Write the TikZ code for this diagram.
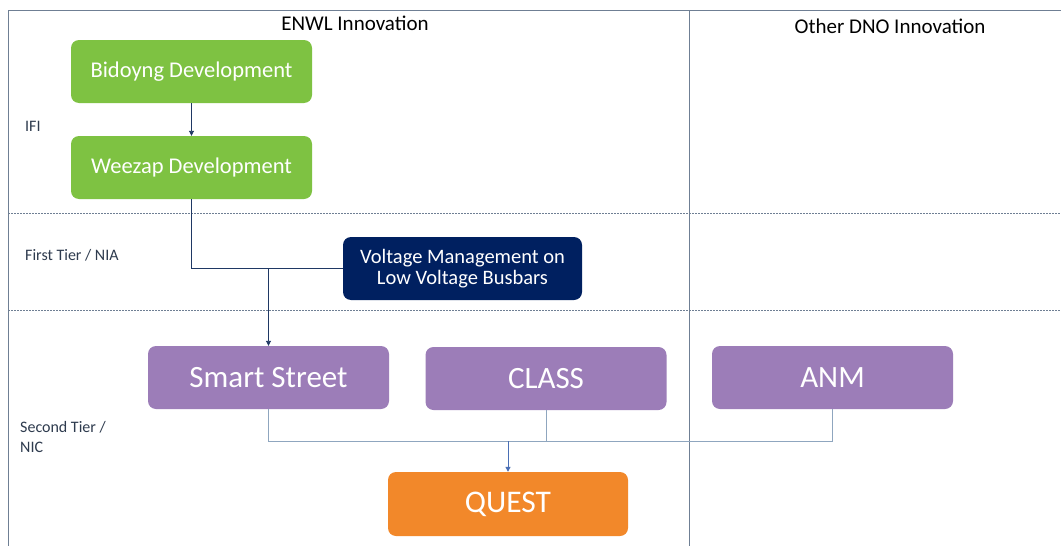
\documentclass[tikz,border=0pt]{standalone}
\usepackage{fontspec}
\setmainfont{Carlito}
\usetikzlibrary{arrows.meta,calc}
\definecolor{leaf}{HTML}{7EC242}
\definecolor{navy}{HTML}{002060}
\definecolor{lilac}{HTML}{9C7DB8}
\definecolor{tangerine}{HTML}{F2882A}
\definecolor{frame}{HTML}{6F7F94}
\definecolor{linkdark}{HTML}{1F3864}
\definecolor{linklight}{HTML}{8FA6BF}
\definecolor{linkblue}{HTML}{4A6FB5}
\definecolor{labeltext}{HTML}{2E3B4E}
\tikzset{
  box/.style={rounded corners=8pt, text=white, align=center, inner sep=0pt,
    minimum width=241pt, minimum height=63pt},
  greenbox/.style={box, fill=leaf, font=\fontsize{22.5}{26}\selectfont},
  navybox/.style={box, fill=navy, minimum width=239pt, font=\fontsize{20.5}{21}\selectfont},
  purplebox/.style={box, fill=lilac, font=\fontsize{31}{36}\selectfont},
  orangebox/.style={box, fill=tangerine, minimum width=240pt, minimum height=64pt, font=\fontsize{31.5}{36}\selectfont},
  gridline/.style={draw=frame, line width=0.9pt},
  tierline/.style={draw=frame, line width=0.8pt, dash pattern=on 2pt off 1pt},
  header/.style={font=\fontsize{21}{24}\selectfont, text=black, inner sep=0pt},
  tier/.style={font=\fontsize{16}{20}\selectfont, text=labeltext, inner sep=0pt, anchor=west, align=left},
  darklink/.style={draw=linkdark, line width=0.9pt},
  lightlink/.style={draw=linklight, line width=1pt},
  tip/.style={-{Triangle[width=5pt,length=5pt]}}
}
\begin{document}
\begin{tikzpicture}[x=1pt,y=-1pt]
  \useasboundingbox[fill=white] (0,0) rectangle (1061,546);

  % table frame and tier separators
  \draw[gridline] (8,546) -- (8,10) -- (1061,10);
  \draw[gridline] (689,10) -- (689,546);
  \draw[tierline] (8,213) -- (1061,213);
  \draw[tierline] (8,310) -- (1061,310);

  % column headers
  \node[header] (hEnwl) at (355,23) {ENWL Innovation};
  \node[header] (hOther) at (890,26) {Other DNO Innovation};

  % tier labels
  \node[tier] (tIfi) at (25,126) {IFI};
  \node[tier] (tNia) at (25,255) {First Tier / NIA};
  \node[tier] (tNic) at (20,437) {Second Tier /\\NIC};

  % projects
  \node[greenbox] (bid) at (191.5,71.5) {Bidoyng Development};
  \node[greenbox] (wee) at (191.5,167.5) {Weezap Development};
  \node[navybox] (vol) at (462.5,268.5) {Voltage Management on\\Low Voltage Busbars};
  \node[purplebox] (smart) at (268.5,377.5) {Smart Street};
  \node[purplebox] (class) at (546,378.5) {CLASS};
  \node[purplebox] (anm) at (832.5,377.5) {ANM};
  \node[orangebox] (quest) at (508,504) {QUEST};

  % IFI and NIA feeding Smart Street
  \draw[darklink, tip] (bid.south) -- (wee.north);
  \draw[darklink] (wee.south) |- (vol.west);
  \coordinate (jNia) at (smart.north |- vol.west);
  \draw[darklink, tip] (jNia) -- (smart.north);

  % NIC projects feeding QUEST
  \coordinate (bus) at (0,441);
  \draw[lightlink] (smart.south) |- (anm.south |- bus) -- (anm.south);
  \draw[lightlink] (class.south) -- (class.south |- bus);
  \coordinate (jNic) at (quest.north |- bus);
  \draw[draw=linkblue, line width=1pt, tip] (jNic) -- (quest.north);
\end{tikzpicture}
\end{document}
